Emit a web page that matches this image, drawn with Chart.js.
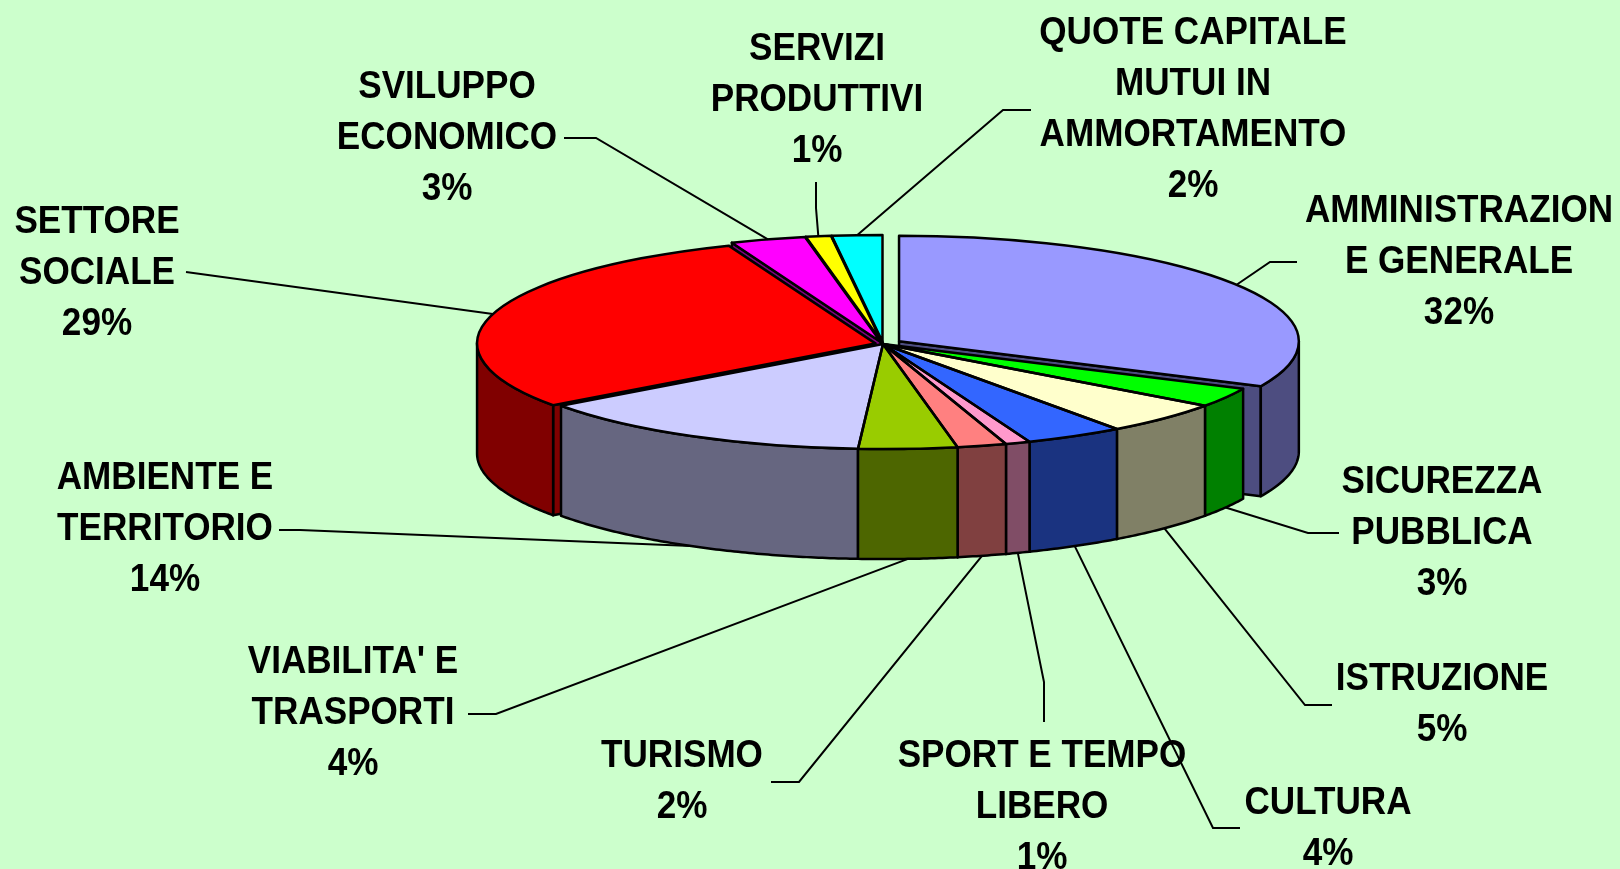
<!DOCTYPE html>
<html>
<head>
<meta charset="utf-8">
<title>Spesa per funzioni</title>
<script src="https://cdn.jsdelivr.net/npm/chart.js@4.4.1/dist/chart.umd.min.js"></script>
<style>
    html, body { margin: 0; padding: 0; background: #CCFFCC; }
    canvas { display: block; }
</style>
</head>
<body>
<canvas id="graficoTorta" width="1620" height="869"></canvas>
<script>
// Dati del grafico (funzioni di spesa, in percentuale)
const categorie = [
    'AMMINISTRAZIONE GENERALE', 'SICUREZZA PUBBLICA', 'ISTRUZIONE', 'CULTURA',
    'SPORT E TEMPO LIBERO', 'TURISMO', "VIABILITA' E TRASPORTI", 'AMBIENTE E TERRITORIO',
    'SETTORE SOCIALE', 'SVILUPPO ECONOMICO', 'SERVIZI PRODUTTIVI', 'QUOTE CAPITALE MUTUI IN AMMORTAMENTO'
];
const righeEtichette = [
    ['AMMINISTRAZION', 'E GENERALE'], ['SICUREZZA', 'PUBBLICA'], ['ISTRUZIONE'], ['CULTURA'],
    ['SPORT E TEMPO', 'LIBERO'], ['TURISMO'], ["VIABILITA' E", 'TRASPORTI'], ['AMBIENTE E', 'TERRITORIO'],
    ['SETTORE', 'SOCIALE'], ['SVILUPPO', 'ECONOMICO'], ['SERVIZI', 'PRODUTTIVI'], ['QUOTE CAPITALE', 'MUTUI IN', 'AMMORTAMENTO']
];
const valori = [32, 3, 5, 4, 1, 2, 4, 14, 29, 3, 1, 2];

// Stile
const colori = ['#9999FF', '#00FF00', '#FFFFCC', '#3366FF', '#FF99CC', '#FF8080',
                '#99CC00', '#CCCCFF', '#FF0000', '#FF00FF', '#FFFF00', '#00FFFF'];
const esplosione = [76, 0, 0, 0, 0, 0, 0, 0, 32, 32, 32, 32];

// Geometria della torta 3D
const CX = 883, CY = 344, RAGGIO = 398, SCHIACCIA = 0.264, SPESSORE = 110;
const INTERLINEA = 51;

// Posizione etichette: centro x, prima linea di base, punto d'attacco e gomito della linea guida
const posEtichette = [
    { x: 1459, y: 222, linea: [[1297, 262], [1270, 262]] },
    { x: 1442, y: 493, linea: [[1339, 533], [1308, 533]] },
    { x: 1442, y: 690, linea: [[1332, 705], [1305, 705]] },
    { x: 1328, y: 814, linea: [[1240, 828], [1213, 828]] },
    { x: 1042, y: 767, linea: [[1044, 722], [1044, 682]] },
    { x: 682,  y: 767, linea: [[771, 782], [799, 782]] },
    { x: 353,  y: 673, linea: [[468, 714], [496, 714]] },
    { x: 165,  y: 489, linea: [[279, 530], [300, 530]] },
    { x: 97,   y: 233, linea: [[186, 272], [186, 272]] },
    { x: 447,  y: 98,  linea: [[564, 138], [596, 138]] },
    { x: 817,  y: 60,  linea: [[816, 182], [816, 208]] },
    { x: 1193, y: 44,  linea: [[1031, 110], [1003, 110]] }
];

const scurisci = (hex) => {
    const n = parseInt(hex.slice(1), 16);
    const r = (n >> 16) & 255, g = (n >> 8) & 255, b = n & 255;
    return `rgb(${Math.round(r / 2)},${Math.round(g / 2)},${Math.round(b / 2)})`;
};

// Stessa traslazione usata da ArcElement.draw (offset / 4)
const geometria = (arco) => {
    const off = (arco.options.offset || 0) / 4;
    const meta = (arco.startAngle + arco.endAngle) / 2;
    const circ = arco.endAngle - arco.startAngle;
    return {
        dx: Math.cos(meta) * off,
        dy: Math.sin(meta) * off,
        r: arco.outerRadius + off * (1 - Math.sin(Math.min(Math.PI, circ))),
        s: arco.startAngle,
        e: arco.endAngle,
        meta
    };
};

const proietta = (g, ang, r, h) => [
    CX + g.dx + r * Math.cos(ang),
    CY + SCHIACCIA * (g.dy + r * Math.sin(ang)) + h
];

const poligono = (ctx, punti, riempimento) => {
    ctx.beginPath();
    punti.forEach((p, i) => i ? ctx.lineTo(p[0], p[1]) : ctx.moveTo(p[0], p[1]));
    ctx.closePath();
    ctx.fillStyle = riempimento;
    ctx.fill();
    ctx.stroke();
};

const disegnaPareti = (chart) => {
    const ctx = chart.ctx;
    const archi = chart.getDatasetMeta(0).data;
    const ordine = archi.map((a, i) => i)
        .sort((i, j) => Math.sin(geometria(archi[i]).meta) - Math.sin(geometria(archi[j]).meta));

    ctx.save();
    ctx.lineWidth = 2.5;
    ctx.strokeStyle = '#000';
    ctx.lineJoin = 'round';
    ordine.forEach(i => {
        const g = geometria(archi[i]);
        const colore = scurisci(colori[i]);

        // facce radiali visibili
        const facce = [];
        if (Math.cos(g.s) < -1e-6) facce.push(g.s);
        if (Math.cos(g.e) > 1e-6) facce.push(g.e);
        facce.forEach(ang => {
            const c = [CX + g.dx, CY + SCHIACCIA * g.dy];
            const p = proietta(g, ang, g.r, 0);
            poligono(ctx, [c, p, [p[0], p[1] + SPESSORE], [c[0], c[1] + SPESSORE]], colore);
        });

        // parete esterna (solo metà anteriore)
        const a0 = Math.max(g.s, 0), a1 = Math.min(g.e, Math.PI);
        if (a1 > a0) {
            const n = Math.max(2, Math.ceil((a1 - a0) / 0.01));
            const punti = [];
            for (let k = 0; k <= n; k++) punti.push(proietta(g, a0 + (a1 - a0) * k / n, g.r, 0));
            for (let k = n; k >= 0; k--) punti.push(proietta(g, a0 + (a1 - a0) * k / n, g.r, SPESSORE));
            poligono(ctx, punti, colore);
        }
    });
    ctx.restore();
};

const applicaSchiacciamento = (ctx, arco) => {
    ctx.translate(CX, CY);
    ctx.scale(1, SCHIACCIA);
    ctx.translate(-arco.x, -arco.y);
};

const torta3D = {
    id: 'torta3D',
    beforeDatasetsDraw(chart) {
        disegnaPareti(chart);
        const arco = chart.getDatasetMeta(0).data[0];
        chart.ctx.save();
        applicaSchiacciamento(chart.ctx, arco);
    },
    afterDatasetsDraw(chart) {
        const ctx = chart.ctx;
        ctx.restore();
        // contorni delle facce superiori con spessore uniforme
        const archi = chart.getDatasetMeta(0).data;
        ctx.save();
        ctx.lineWidth = 2.5;
        ctx.strokeStyle = '#000';
        ctx.lineJoin = 'round';
        archi.forEach(arco => {
            const g = geometria(arco);
            ctx.save();
            applicaSchiacciamento(ctx, arco);
            ctx.beginPath();
            ctx.moveTo(arco.x + g.dx, arco.y + g.dy);
            ctx.arc(arco.x + g.dx, arco.y + g.dy, g.r, g.s, g.e);
            ctx.closePath();
            ctx.restore();
            ctx.stroke();
        });
        ctx.restore();
    },
    afterDraw(chart) {
        const ctx = chart.ctx;
        const archi = chart.getDatasetMeta(0).data;
        const totale = valori.reduce((a, b) => a + b, 0);

        ctx.save();
        // linee guida
        ctx.lineWidth = 2;
        ctx.strokeStyle = '#000';
        archi.forEach((arco, i) => {
            const g = geometria(arco);
            const h = Math.sin(g.meta) > 0.05 ? SPESSORE : 0;
            const ancora = proietta(g, g.meta, g.r, h);
            const [inizio, gomito] = posEtichette[i].linea;
            ctx.beginPath();
            ctx.moveTo(inizio[0], inizio[1]);
            ctx.lineTo(gomito[0], gomito[1]);
            ctx.lineTo(ancora[0], ancora[1]);
            ctx.stroke();
        });

        // etichette
        ctx.font = 'bold 39px "Liberation Sans", Arial, sans-serif';
        ctx.fillStyle = '#000';
        ctx.textAlign = 'center';
        ctx.textBaseline = 'alphabetic';
        righeEtichette.forEach((righe, i) => {
            const pos = posEtichette[i];
            const testo = [...righe, `${Math.round(valori[i] / totale * 100)}%`];
            testo.forEach((t, j) => {
                ctx.save();
                ctx.translate(pos.x, pos.y + j * INTERLINEA);
                ctx.scale(0.9, 1);
                ctx.fillText(t, 0, 0);
                ctx.restore();
            });
        });
        ctx.restore();
    }
};

const ctx = document.getElementById('graficoTorta').getContext('2d');
new Chart(ctx, {
    type: 'pie',
    data: {
        labels: categorie,
        datasets: [{
            data: valori,
            backgroundColor: colori,
            borderWidth: 0,
            offset: esplosione,
            clip: false
        }]
    },
    options: {
        responsive: false,
        animation: false,
        events: [],
        radius: RAGGIO,
        layout: { padding: 0 },
        plugins: {
            legend: { display: false },
            tooltip: { enabled: false }
        }
    },
    plugins: [torta3D]
});
</script>
</body>
</html>
